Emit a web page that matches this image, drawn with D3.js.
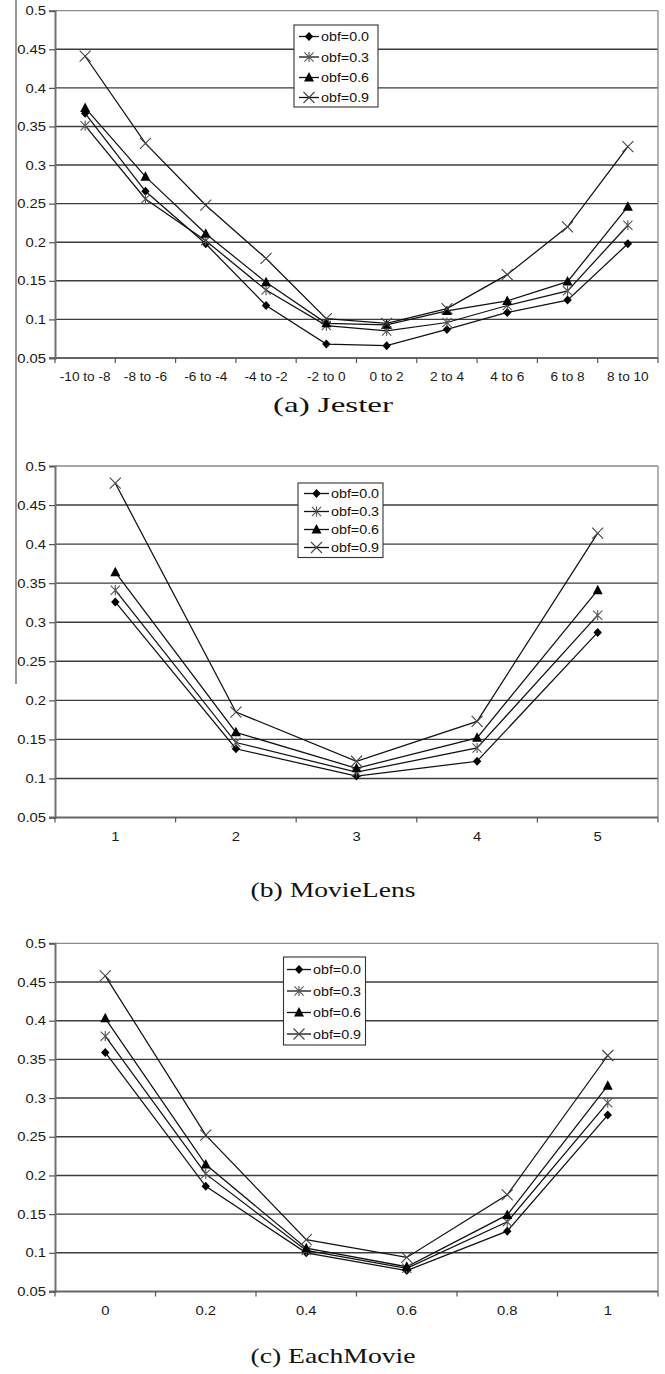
<!DOCTYPE html>
<html><head><meta charset="utf-8">
<script src="https://cdn.jsdelivr.net/npm/d3@7"></script>
<style>body{margin:0;background:#fff}svg{display:block}</style>
</head><body>
<svg id="chart" width="665" height="1374"></svg>
<script>
// ---------- data ----------
const seriesNames = ["obf=0.0", "obf=0.3", "obf=0.6", "obf=0.9"];
const yTickValues = [0.05, 0.1, 0.15, 0.2, 0.25, 0.3, 0.35, 0.4, 0.45, 0.5];

const jesterCats = ["-10 to -8", "-8 to -6", "-6 to -4", "-4 to -2", "-2 to 0", "0 to 2", "2 to 4", "4 to 6", "6 to 8", "8 to 10"];
const jesterObf00 = [0.367, 0.266, 0.198, 0.118, 0.068, 0.066, 0.087, 0.109, 0.125, 0.198];
const jesterObf03 = [0.351, 0.256, 0.202, 0.138, 0.092, 0.085, 0.096, 0.118, 0.137, 0.222];
const jesterObf06 = [0.374, 0.285, 0.211, 0.148, 0.095, 0.093, 0.111, 0.124, 0.149, 0.246];
const jesterObf09 = [0.441, 0.328, 0.248, 0.179, 0.101, 0.095, 0.114, 0.158, 0.220, 0.324];

const movielensCats = ["1", "2", "3", "4", "5"];
const movielensObf00 = [0.326, 0.138, 0.103, 0.122, 0.287];
const movielensObf03 = [0.341, 0.146, 0.108, 0.139, 0.309];
const movielensObf06 = [0.364, 0.159, 0.113, 0.152, 0.341];
const movielensObf09 = [0.478, 0.185, 0.122, 0.173, 0.414];

const eachmovieCats = ["0", "0.2", "0.4", "0.6", "0.8", "1"];
const eachmovieObf00 = [0.359, 0.186, 0.100, 0.077, 0.128, 0.278];
const eachmovieObf03 = [0.380, 0.202, 0.103, 0.080, 0.140, 0.294];
const eachmovieObf06 = [0.403, 0.214, 0.106, 0.082, 0.149, 0.316];
const eachmovieObf09 = [0.458, 0.252, 0.117, 0.094, 0.175, 0.355];

const panelTitles = ["(a) Jester", "(b) MovieLens", "(c) EachMovie"];

// ---------- layout ----------
const panels = [
  {cats: jesterCats, series: [jesterObf00, jesterObf03, jesterObf06, jesterObf09], title: panelTitles[0],
   top: 10.7, bottom: 358, titleY: 412, titleW: 120,
   legend: {x: 294, y: 25, w: 84, h: 82, rows: [36.5, 57, 77.5, 97.5], lx0: 299, lx1: 319, tx: 321}},
  {cats: movielensCats, series: [movielensObf00, movielensObf03, movielensObf06, movielensObf09], title: panelTitles[1],
   top: 466, bottom: 817.5, titleY: 897, titleW: 165,
   legend: {x: 298, y: 483, w: 85, h: 74.5, rows: [493.5, 511.5, 529.5, 547.5], lx0: 304, lx1: 329, tx: 331}},
  {cats: eachmovieCats, series: [eachmovieObf00, eachmovieObf03, eachmovieObf06, eachmovieObf09], title: panelTitles[2],
   top: 943.3, bottom: 1291.5, titleY: 1363, titleW: 165,
   legend: {x: 283.5, y: 957, w: 82, h: 88, rows: [969.5, 991, 1012.5, 1034], lx0: 287, lx1: 311, tx: 313}}
];
const left = 55, right = 658;
const SX = 1.14; // horizontal stretch of the original figure's text

const svg = d3.select("#chart");

// artifact vertical line at left
svg.append("line").attr("x1", 16).attr("x2", 16).attr("y1", 0).attr("y2", 684)
  .attr("stroke", "#777").attr("stroke-width", 1.5);

function stretchText(sel, k) {
  sel.each(function () {
    const t = d3.select(this);
    const x = +t.attr("x") || 0;
    t.attr("transform", `translate(${x * (1 - k)},0) scale(${k},1)`);
  });
}

function marker(g, idx, cx, cy) {
  if (idx === 0) {
    g.append("path").attr("d", `M${cx},${cy - 4.5}L${cx + 4.2},${cy}L${cx},${cy + 4.5}L${cx - 4.2},${cy}Z`)
      .attr("fill", "#000");
  } else if (idx === 1) {
    const r = 4.6;
    g.append("path").attr("d",
      `M${cx - r},${cy - r}L${cx + r},${cy + r}M${cx - r},${cy + r}L${cx + r},${cy - r}M${cx},${cy - r - 0.5}L${cx},${cy + r + 0.5}`)
      .attr("stroke", "#555").attr("stroke-width", 1.1).attr("fill", "none");
  } else if (idx === 2) {
    g.append("path").attr("d", `M${cx},${cy - 5.5}L${cx + 5},${cy + 4}L${cx - 5},${cy + 4}Z`).attr("fill", "#000");
  } else {
    const r = 5.5;
    g.append("path").attr("d", `M${cx - r},${cy - r}L${cx + r},${cy + r}M${cx - r},${cy + r}L${cx + r},${cy - r}`)
      .attr("stroke", "#444").attr("stroke-width", 1.1).attr("fill", "none");
  }
}

panels.forEach(p => {
  const g = svg.append("g");
  const y = d3.scaleLinear().domain([0.05, 0.5]).range([p.bottom, p.top]);
  const x = d3.scaleBand().domain(p.cats).range([left, right]);
  const cx = c => x(c) + x.bandwidth() / 2;

  // gridlines
  g.append("g").selectAll("line").data(yTickValues.filter(v => v > 0.05)).join("line")
    .attr("x1", left).attr("x2", right)
    .attr("y1", d => y(d)).attr("y2", d => y(d))
    .attr("stroke", d => d === 0.5 ? "#8a8a8a" : "#3c3c3c")
    .attr("stroke-width", d => d === 0.5 ? 1.3 : 1.4);
  // right border
  g.append("line").attr("x1", right).attr("x2", right).attr("y1", y(0.5)).attr("y2", y(0.05))
    .attr("stroke", "#8a8a8a").attr("stroke-width", 1.3);

  // y axis
  const ya = g.append("g").attr("transform", `translate(${left},0)`)
    .call(d3.axisLeft(y).tickValues(yTickValues).tickSize(6).tickPadding(3).tickFormat(d => String(+d.toFixed(2))));
  ya.select(".domain").attr("stroke", "#707070").attr("stroke-width", 2);
  ya.selectAll(".tick line").attr("stroke", "#555").attr("stroke-width", 1.2);
  ya.selectAll("text").attr("font-family", "Liberation Sans, Arial, sans-serif").attr("font-size", 13).attr("fill", "#1a1a1a");
  stretchText(ya.selectAll("text"), SX);

  // x axis: labels at band centers, ticks at band boundaries
  const xa = g.append("g").attr("transform", `translate(0,${p.bottom})`)
    .call(d3.axisBottom(x).tickSize(0).tickPadding(14));
  xa.select(".domain").remove();
  xa.selectAll("text").attr("font-family", "Liberation Sans, Arial, sans-serif").attr("font-size", 13).attr("fill", "#1a1a1a");
  stretchText(xa.selectAll("text"), p.cats === jesterCats ? 1.05 : SX);
  g.append("line").attr("x1", left - 6).attr("x2", right).attr("y1", p.bottom).attr("y2", p.bottom)
    .attr("stroke", "#666").attr("stroke-width", 1.8);
  const bounds = p.cats.map(c => x(c)).concat([x(p.cats[p.cats.length - 1]) + x.bandwidth()]);
  g.append("g").selectAll("line").data(bounds).join("line")
    .attr("x1", d => d).attr("x2", d => d).attr("y1", p.bottom).attr("y2", p.bottom + 5)
    .attr("stroke", "#555").attr("stroke-width", 1.2);

  // series lines and markers
  const line = d3.line().x((d, i) => cx(p.cats[i])).y(d => y(d));
  p.series.forEach(vals => {
    g.append("path").datum(vals).attr("d", line).attr("fill", "none")
      .attr("stroke", "#111").attr("stroke-width", 1.25);
  });
  p.series.forEach((vals, si) => {
    const mg = g.append("g");
    vals.forEach((v, i) => marker(mg, si, cx(p.cats[i]), y(v)));
  });

  // legend
  const L = p.legend;
  const lg = g.append("g");
  lg.append("rect").attr("x", L.x).attr("y", L.y).attr("width", L.w).attr("height", L.h)
    .attr("fill", "#fff").attr("stroke", "#333").attr("stroke-width", 1.1);
  seriesNames.forEach((name, i) => {
    const ry = L.rows[i];
    lg.append("line").attr("x1", L.lx0).attr("x2", L.lx1).attr("y1", ry).attr("y2", ry)
      .attr("stroke", "#111").attr("stroke-width", 1.3);
    marker(lg, i, (L.lx0 + L.lx1) / 2, ry);
    const t = lg.append("text").attr("x", L.tx).attr("y", ry).attr("dy", "0.36em")
      .attr("font-family", "Liberation Sans, Arial, sans-serif").attr("font-size", 13).attr("fill", "#111")
      .text(name);
    stretchText(t, 1.1);
  });

  // title
  svg.append("text").attr("x", 333).attr("y", p.titleY).attr("text-anchor", "middle")
    .attr("font-family", "Liberation Serif, Times New Roman, serif").attr("font-size", 21).attr("fill", "#111")
    .attr("textLength", p.titleW).attr("lengthAdjust", "spacingAndGlyphs")
    .text(p.title);
});
</script>
</body></html>
